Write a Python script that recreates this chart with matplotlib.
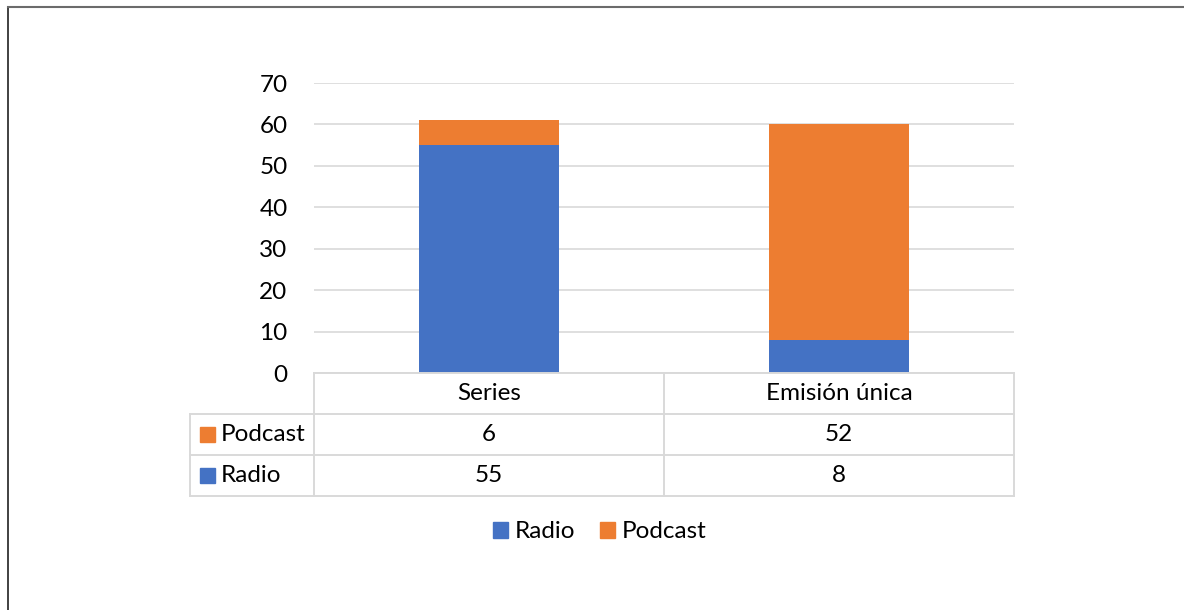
import matplotlib
matplotlib.use("Agg")
import matplotlib.pyplot as plt
from matplotlib.lines import Line2D
from matplotlib.patches import Rectangle

categories = ["Series", "Emisión única"]
radio = [55, 8]
podcast = [6, 52]
series_names = ["Radio", "Podcast"]
y_ticks = [0, 10, 20, 30, 40, 50, 60, 70]

BLUE = "#4472C4"
ORANGE = "#ED7D31"
GRID = "#D9D9D9"
FONT = "Lato"
FS = 17.5

W, H = 1184, 610
fig = plt.figure(figsize=(W / 100, H / 100), dpi=100)


def fx(px):
    return px / W


def fy(py):
    return 1 - py / H


# outer frame (left and top edges)
fig.add_artist(Line2D([fx(8), fx(8)], [fy(7), 0], color="#333333", lw=1.3))
fig.add_artist(Line2D([fx(8), 1], [fy(7), fy(7)], color="#6b6b6b", lw=1.5))

# plot area
left, right, top, bottom = 314, 1014, 83, 373
ax = fig.add_axes([fx(left), fy(bottom), fx(right - left), (bottom - top) / H])
x = list(range(len(categories)))
ax.bar(x, radio, width=0.4, color=BLUE, zorder=3)
ax.bar(x, podcast, width=0.4, bottom=radio, color=ORANGE, zorder=3)
ax.set_xlim(-0.5, len(categories) - 0.5)
ax.set_ylim(0, 70)
ax.set_yticks(y_ticks)
ax.set_yticklabels([str(v) for v in y_ticks], fontsize=FS, family=FONT)
ax.tick_params(axis="y", length=0, pad=19)
ax.set_xticks([])
ax.yaxis.grid(True, color=GRID, lw=1.2, zorder=0)
for s in ax.spines.values():
    s.set_visible(False)

# data table below the plot
tab_left, tab_top = 190, 373
row_h = 41
rows = [("", None, categories),
        ("Podcast", ORANGE, [str(v) for v in podcast]),
        ("Radio", BLUE, [str(v) for v in radio])]
col_w = (right - left) / len(categories)
tab_bottom = tab_top + row_h * len(rows)
line_kw = dict(color=GRID, lw=1.4)
# horizontal lines
fig.add_artist(Line2D([fx(left), fx(right)], [fy(tab_top)] * 2, **line_kw))
for i in range(1, len(rows) + 1):
    yy = tab_top + row_h * i
    fig.add_artist(Line2D([fx(tab_left), fx(right)], [fy(yy)] * 2, **line_kw))
# vertical lines
fig.add_artist(Line2D([fx(tab_left)] * 2, [fy(tab_top + row_h), fy(tab_bottom)], **line_kw))
for j in range(len(categories) + 1):
    xx = left + col_w * j
    fig.add_artist(Line2D([fx(xx)] * 2, [fy(tab_top), fy(tab_bottom)], **line_kw))

for i, (name, color, cells) in enumerate(rows):
    yc = tab_top + row_h * i + row_h / 2
    if name:
        fig.add_artist(Rectangle((fx(200), fy(yc + 7)), 15 / W, 15 / H,
                                 color=color, transform=fig.transFigure))
        fig.text(fx(221), fy(yc), name, fontsize=FS, family=FONT,
                 ha="left", va="center")
    for j, txt in enumerate(cells):
        fig.text(fx(left + col_w * (j + 0.5)), fy(yc), txt, fontsize=FS,
                 family=FONT, ha="center", va="center")

# legend
handles = [Rectangle((0, 0), 1, 1, color=BLUE), Rectangle((0, 0), 1, 1, color=ORANGE)]
fig.legend(handles, series_names, loc="center", ncol=2, frameon=False,
           bbox_to_anchor=(fx(600), fy(532)), prop={"family": FONT, "size": FS},
           handlelength=0.6, handleheight=0.6, handletextpad=0.3,
           columnspacing=1.0)

fig.savefig("out.png", dpi=100)
